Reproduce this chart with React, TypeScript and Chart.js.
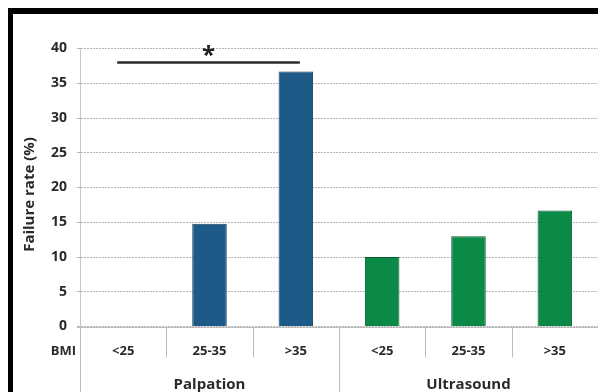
import React, { useEffect, useRef } from "react";
import { Chart, registerables } from "chart.js";

Chart.register(...registerables);

// BMI bands within each assessment method
const bmiBands = ["<25", "25-35", ">35", "<25", "25-35", ">35"];
const methods = ["Palpation", "Ultrasound"];
const failureRate = [0, 14.8, 36.7, 10, 13, 16.7];
const yTicks = [0, 5, 10, 15, 20, 25, 30, 35, 40];
const yTitle = "Failure rate (%)";
const barColors = ["#1d5a87", "#1d5a87", "#1d5a87", "#0b8a47", "#0b8a47", "#0b8a47"];
const barEdges = ["#143f60", "#143f60", "#143f60", "#0a5e31", "#0a5e31", "#0a5e31"];
// significance bracket spans Palpation <25 .. >35
const sigFrom = 0;
const sigTo = 2;
const sigLevel = 38;

const FONT = "'Open Sans', sans-serif";
const TEXT = "#2a2a2a";

const twoTierAxis = {
  id: "twoTierAxis",
  afterDraw(chart: any) {
    const { ctx, chartArea, scales } = chart;
    const x = scales.x;
    const y = scales.y;
    const step = x.getPixelForValue(1) - x.getPixelForValue(0);
    const edge0 = x.getPixelForValue(0) - step / 2;
    const base = y.getPixelForValue(0);
    const H = chart.height;

    ctx.save();
    // solid zero line
    ctx.strokeStyle = "#bdbdbd";
    ctx.lineWidth = 1;
    ctx.beginPath();
    ctx.moveTo(chartArea.left - 3, Math.round(base) + 0.5);
    ctx.lineTo(chartArea.right, Math.round(base) + 0.5);
    ctx.stroke();

    // category dividers; group boundaries run to the bottom
    for (let i = 0; i <= bmiBands.length; i++) {
      const px = Math.round(edge0 + i * step) + 0.5;
      const isGroup = i % 3 === 0;
      ctx.beginPath();
      ctx.moveTo(px, base);
      ctx.lineTo(px, isGroup ? H : base + 31);
      ctx.stroke();
    }

    ctx.fillStyle = TEXT;
    ctx.textBaseline = "alphabetic";
    ctx.font = `bold 13px ${FONT}`;
    ctx.textAlign = "center";
    bmiBands.forEach((b, i) => {
      ctx.fillText(b, x.getPixelForValue(i), base + 28);
    });
    ctx.textAlign = "right";
    ctx.fillText("BMI", chartArea.left - 4, base + 28);

    ctx.font = `bold 15px ${FONT}`;
    ctx.textAlign = "center";
    methods.forEach((m, g) => {
      const cx = (x.getPixelForValue(g * 3) + x.getPixelForValue(g * 3 + 2)) / 2;
      ctx.fillText(m, cx, base + 62);
    });

    // rotated y-axis title
    ctx.save();
    ctx.translate(16.5, (chartArea.top + chartArea.bottom) / 2 + 7);
    ctx.rotate(-Math.PI / 2);
    ctx.textBaseline = "middle";
    ctx.font = `bold 15px ${FONT}`;
    ctx.fillText(yTitle, 0, 0);
    ctx.restore();

    // significance bracket
    const sy = y.getPixelForValue(sigLevel);
    const sx1 = x.getPixelForValue(sigFrom) - 6;
    const sx2 = x.getPixelForValue(sigTo) + 4;
    ctx.strokeStyle = "#2b2b2b";
    ctx.lineWidth = 2.5;
    ctx.beginPath();
    ctx.moveTo(sx1, sy);
    ctx.lineTo(sx2, sy);
    ctx.stroke();
    ctx.font = `bold 24px ${FONT}`;
    ctx.fillStyle = "#1e1e1e";
    ctx.textAlign = "center";
    ctx.fillText("*", (sx1 + sx2) / 2, sy + 1);
    ctx.restore();
  },
};

export default function App() {
  const ref = useRef<HTMLCanvasElement>(null);

  useEffect(() => {
    if (!ref.current) return;
    const chart = new Chart(ref.current, {
      type: "bar",
      data: {
        labels: bmiBands,
        datasets: [
          {
            data: failureRate,
            backgroundColor: barColors,
            borderColor: barEdges,
            borderWidth: 1,
            categoryPercentage: 1,
            barPercentage: 0.4,
          },
        ],
      },
      options: {
        animation: false,
        responsive: false,
        maintainAspectRatio: false,
        layout: { padding: { left: 0, right: 8, top: 34.5, bottom: 65.5 } },
        plugins: { legend: { display: false }, tooltip: { enabled: false } },
        scales: {
          x: { display: false },
          y: {
            min: 0,
            max: 40,
            afterBuildTicks(scale: any) {
              scale.ticks = yTicks.map((v) => ({ value: v }));
            },
            afterFit(scale: any) {
              scale.width = 67;
            },
            ticks: {
              color: TEXT,
              padding: 10,
              font: { family: FONT, size: 14, weight: "bold" },
            },
            grid: { color: "#b5b5b5", tickLength: 3 },
            border: { display: true, color: "#c4c4c4", dash: [2, 1] },
          },
        },
      },
      plugins: [twoTierAxis],
    });
    return () => chart.destroy();
  }, []);

  return (
    <div
      style={{
        width: 598,
        height: 384,
        boxSizing: "border-box",
        borderTop: "6px solid #000",
        borderLeft: "5px solid #000",
        background: "#fff",
      }}
    >
      <canvas ref={ref} width={593} height={378} style={{ display: "block" }} />
    </div>
  );
}
